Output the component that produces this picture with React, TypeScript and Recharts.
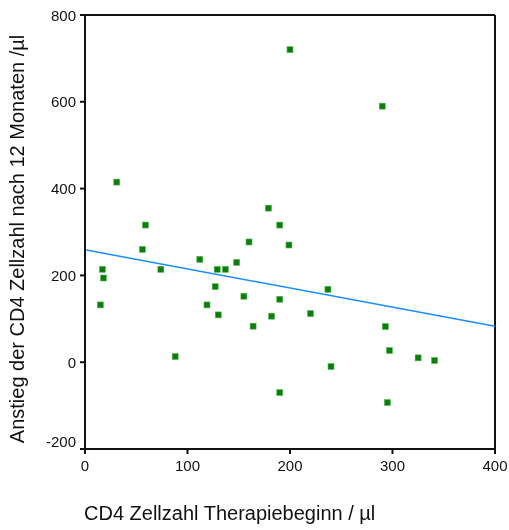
import { ScatterChart, Scatter, XAxis, YAxis, ReferenceLine, Label } from 'recharts';

// CD4 Zellzahl zu Therapiebeginn vs. Anstieg nach 12 Monaten
const baselineCD4 = [
    200, 31, 179, 59, 190, 290, 160, 199, 56, 112, 148, 17, 74, 129, 137, 18, 127,
    155, 190, 15, 119, 130, 182, 164, 88, 190, 237, 220, 293, 297, 325, 341, 240, 295,
];
const riseCD4 = [
    720, 415, 355, 316, 316, 590, 277, 270, 260, 237, 230, 214, 214, 214, 214, 194, 174,
    152, 145, 132, 132, 109, 106, 83, 13, -70, 168, 112, 82, 27, 10, 4, -10, -93,
];
const fitX = [0, 400];
const fitY = [259, 83];
const xTicks = [0, 100, 200, 300, 400];
const yTicks = [-200, 0, 200, 400, 600, 800];

const points = baselineCD4.map((x, i) => ({ x, y: riseCD4[i] }));
const fitSegment = fitX.map((x, i) => ({ x, y: fitY[i] }));

const FONT = '"Liberation Sans", Arial, sans-serif';
const tickStyle = { fontSize: 15, fill: '#111', fontFamily: FONT };

const Marker = (props: any) => {
    const { cx, cy } = props;
    return <rect x={cx - 3} y={cy - 3} width={6} height={6} fill="#0a7d0a" stroke="#5cb85c" strokeWidth={0.6} />;
};

// the lowest y label sits a little above its tick, clear of the x axis
const YTick = (props: any) => {
    const { x, y, payload } = props;
    const lift = payload.value === yTicks[0] ? -8 : 0;
    return (
        <text x={x} y={y + lift} textAnchor="end" dominantBaseline="central" {...tickStyle}>
            {payload.value}
        </text>
    );
};

export default function App() {
    // pinned to the window corner so the body margin plays no part
    return (
        <div style={{ fontFamily: FONT, position: 'fixed', left: 0, top: 0, width: 509, height: 530, overflow: 'hidden' }}>
            <ScatterChart width={509} height={530} margin={{ top: 15, right: 14, bottom: 21, left: 0 }}>
                <XAxis
                    type="number"
                    dataKey="x"
                    domain={[0, 400]}
                    ticks={xTicks}
                    tick={tickStyle}
                    stroke="#111"
                    strokeWidth={2}
                    tickSize={5}
                    tickMargin={6}
                    height={60}
                >
                    <Label
                        content={({ viewBox }: any) => (
                            <text
                                x={viewBox.x - 1}
                                y={viewBox.y + 64}
                                fontSize={20}
                                fontFamily={FONT}
                                fill="#111"
                                dominantBaseline="central"
                            >
                                CD4 Zellzahl Therapiebeginn / µl
                            </text>
                        )}
                    />
                </XAxis>
                <YAxis
                    type="number"
                    dataKey="y"
                    domain={[-200, 800]}
                    ticks={yTicks}
                    tick={<YTick />}
                    stroke="#111"
                    strokeWidth={2}
                    tickSize={5}
                    tickMargin={4}
                    width={85}
                >
                    <Label
                        content={({ viewBox }: any) => {
                            const cx = 24;
                            const cy = viewBox.y + viewBox.height / 2 + 7;
                            return (
                                <text
                                    x={cx}
                                    y={cy}
                                    transform={`rotate(-90 ${cx} ${cy})`}
                                    textAnchor="middle"
                                    fontSize={20}
                                    fontFamily={FONT}
                                    fill="#111"
                                >
                                    Anstieg der CD4 Zellzahl nach 12 Monaten /µl
                                </text>
                            );
                        }}
                    />
                </YAxis>
                <ReferenceLine y={800} stroke="#111" strokeWidth={2} />
                <ReferenceLine x={400} stroke="#111" strokeWidth={2} />
                <ReferenceLine segment={fitSegment} stroke="#1a8cff" strokeWidth={1.5} ifOverflow="extendDomain" />
                <Scatter data={points} shape={Marker} isAnimationActive={false} />
            </ScatterChart>
        </div>
    );
}
